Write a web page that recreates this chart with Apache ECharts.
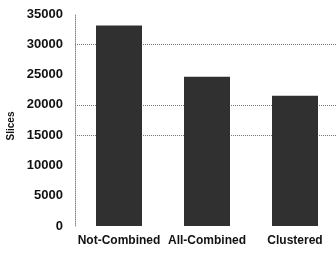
<!DOCTYPE html>
<html>
<head>
<meta charset="utf-8">
<script src="https://cdn.jsdelivr.net/npm/echarts@6/dist/echarts.min.js"></script>
<style>
  html, body { margin: 0; padding: 0; background: #ffffff; }
  #chart { width: 336px; height: 255px; }
</style>
</head>
<body>
<div id="chart"></div>
<script>
// 数据
const categories = ["Not-Combined", "All-Combined", "Clustered"];
const slices = [33100, 24650, 21500];
// 网格线只在 15000 / 20000 / 30000 处可见
const gridColors = ["transparent", "transparent", "transparent", "#777777",
  "#777777", "transparent", "#777777", "transparent"];

let myChart = echarts.init(document.getElementById("chart"));
let option = {
  backgroundColor: "#ffffff",
  animation: false,
  grid: {
    left: 75,
    top: 14,
    bottom: 29,
    width: 264,
    containLabel: false,
    outerBoundsMode: "none",
  },
  xAxis: {
    type: "category",
    data: categories,
    axisLine: { show: false },
    axisTick: { show: false },
    axisLabel: {
      interval: 0,
      margin: 9,
      color: "#111111",
      fontFamily: "Liberation Sans",
      fontWeight: "bold",
      fontSize: 12,
    },
  },
  yAxis: {
    type: "value",
    min: 0,
    max: 35000,
    interval: 5000,
    name: "Slices",
    nameLocation: "middle",
    nameGap: 58,
    nameTextStyle: {
      color: "#111111",
      fontFamily: "Liberation Sans",
      fontWeight: "bold",
      fontSize: 10,
      padding: [0, 12, 0, 0],
    },
    axisLine: {
      show: true,
      lineStyle: { color: "#888888", type: "dotted", width: 1 },
    },
    axisTick: { show: false },
    axisLabel: {
      margin: 12,
      color: "#111111",
      fontFamily: "Liberation Sans",
      fontWeight: "bold",
      fontSize: 13,
      formatter: (v) => String(v), // 不要千位分隔符
    },
    splitLine: {
      show: true,
      lineStyle: { color: gridColors, type: "dotted", width: 1 },
    },
  },
  series: [
    {
      name: "Slices",
      type: "bar",
      barWidth: 46,
      data: slices,
      itemStyle: { color: "#303030" },
    },
  ],
};
myChart.setOption(option);
</script>
</body>
</html>
